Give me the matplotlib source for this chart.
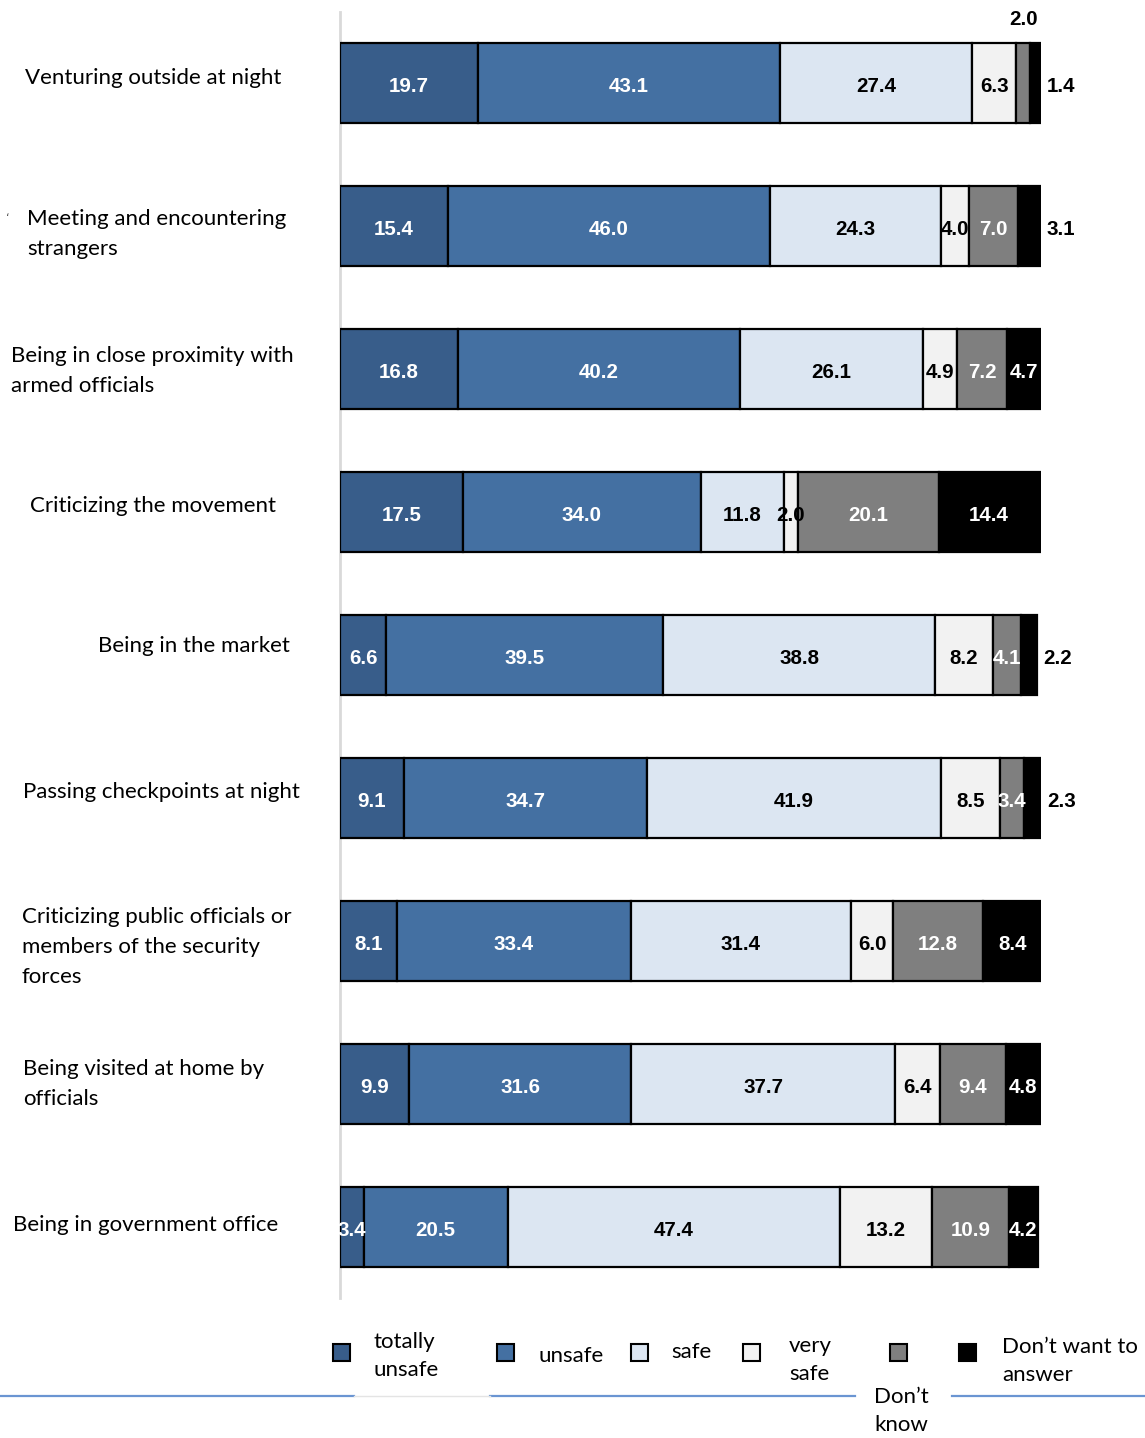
import matplotlib.pyplot as plt
from matplotlib.patches import Rectangle
from matplotlib.lines import Line2D
import numpy as np

# Share of respondents (%) by how safe they feel in each situation
situations = [
    "Venturing outside at night",
    "Meeting and encountering\nstrangers",
    "Being in close proximity with\narmed officials",
    "Criticizing the movement",
    "Being in the market",
    "Passing checkpoints at night",
    "Criticizing public officials or\nmembers of the security\nforces",
    "Being visited at home by\nofficials",
    "Being in government office",
]
totally_unsafe = [19.7, 15.4, 16.8, 17.5, 6.6, 9.1, 8.1, 9.9, 3.4]
unsafe = [43.1, 46.0, 40.2, 34.0, 39.5, 34.7, 33.4, 31.6, 20.5]
safe = [27.4, 24.3, 26.1, 11.8, 38.8, 41.9, 31.4, 37.7, 47.4]
very_safe = [6.3, 4.0, 4.9, 2.0, 8.2, 8.5, 6.0, 6.4, 13.2]
dont_know = [2.0, 7.0, 7.2, 20.1, 4.1, 3.4, 12.8, 9.4, 10.9]
no_answer = [1.4, 3.1, 4.7, 14.4, 2.2, 2.3, 8.4, 4.8, 4.2]

series = [totally_unsafe, unsafe, safe, very_safe, dont_know, no_answer]
legend_labels = ["totally\nunsafe", "unsafe", "safe", "very\nsafe", "Don\u2019t\nknow",
                 "Don\u2019t want to\nanswer"]
colors = ["#385D8A", "#4470A2", "#DCE6F2", "#F2F2F2", "#7F7F7F", "#000000"]
text_colors = ["white", "white", "black", "black", "white", "white"]

W, H = 1145, 1438
fig = plt.figure(figsize=(W / 100, H / 100), dpi=100)


def fx(x):
    return x / W


def fy(y):
    return 1 - y / H


ax = fig.add_axes([fx(340), fy(1298), 701 / W, 1286 / H])
n = len(situations)
ypos = np.arange(n)
left = np.zeros(n)
for vals, col in zip(series, colors):
    ax.barh(ypos, vals, left=left, height=0.56, color=col, edgecolor="black",
            linewidth=1.6, zorder=3)
    left += np.array(vals)

ax.set_xlim(0, 100)
ax.set_ylim(n - 1 + 0.4965, -0.4965)
ax.axis("off")
ax.add_line(Line2D([0, 0], [0, 1], transform=ax.transAxes, color="#D9D9D9",
                   lw=2, zorder=1, clip_on=False))

# value labels: centred in the segment, small end segments written outside
lab_font = dict(fontfamily="Liberation Sans", fontweight="bold", fontsize=14.8)
dy = 0.022
for i in range(n):
    start = 0.0
    total = sum(s[i] for s in series)
    for k, vals in enumerate(series):
        v = vals[i]
        mid = start + v / 2
        if i == 0 and k == 4:
            ax.text(mid, i - 0.38, f"{v:.1f}", ha="center", va="bottom",
                    color="black", **lab_font)
        elif k == 5 and v < 3.2 and i in (0, 1, 4, 5):
            ax.annotate(f"{v:.1f}", (total, i + dy), xytext=(5, 0),
                        textcoords="offset points", ha="left", va="center",
                        color="black", **lab_font)
        else:
            ax.text(mid, i + dy, f"{v:.1f}", ha="center", va="center",
                    color=text_colors[k], zorder=4, **lab_font)
        start += v

# category labels on the left
cat_font = dict(fontfamily="Lato", fontsize=16, color="black")
cat_pos = [(25, 78), (27, 234), (11, 371), (30, 506), (98, 646),
           (23, 792), (22, 947), (23, 1084), (13, 1225)]
for name, (x, y) in zip(situations, cat_pos):
    fig.text(fx(x), fy(y), name, ha="left", va="center", linespacing=1.62,
             **cat_font)
fig.text(fx(6), fy(218), "\u02bb", fontsize=8, color="#555555", ha="left",
         va="center")

# legend strip along the bottom
line_col = "#6A95D2"
for x0, x1 in [(0, 354), (490, 855), (952, 1145)]:
    fig.add_artist(Line2D([fx(x0), fx(x1)], [fy(1396), fy(1396)], color=line_col,
                          lw=1.6))
fig.add_artist(Line2D([fx(354), fx(490)], [fy(1396), fy(1396)], color="#E4E4E4",
                      lw=1))

sq = 17
sq_x = [333, 497, 631, 743, 890, 959]
txt_pos = [(374, 1356), (538, 1356), (671, 1352), (789, 1360), (874, 1411),
           (1002, 1361)]
for k in range(len(series)):
    fig.add_artist(Rectangle((fx(sq_x[k]), fy(1361)), sq / W, sq / H,
                             facecolor=colors[k], edgecolor="black", lw=1.5,
                             transform=fig.transFigure))
    tx, ty = txt_pos[k]
    fig.text(fx(tx), fy(ty), legend_labels[k], ha="left", va="center",
             linespacing=1.55, **cat_font)

fig.savefig("out.png", dpi=100)
